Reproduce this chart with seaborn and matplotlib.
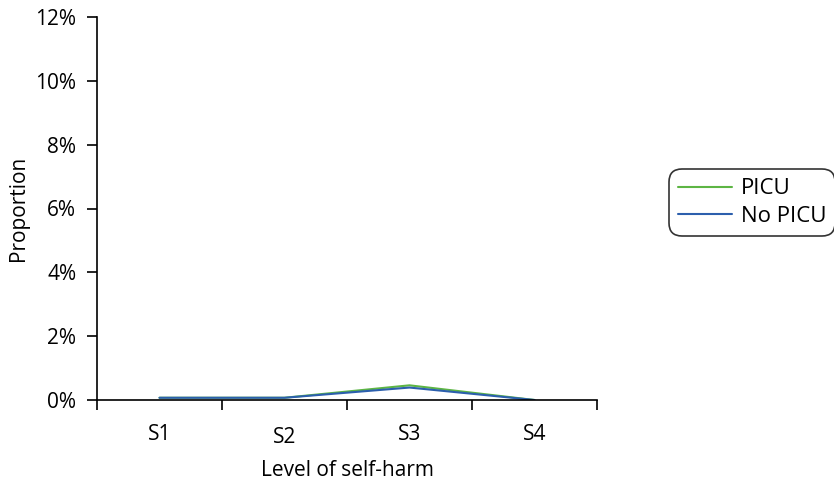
import matplotlib
matplotlib.use("Agg")
import matplotlib.pyplot as plt
import pandas as pd
import seaborn as sns
from matplotlib.ticker import FuncFormatter
from matplotlib.lines import Line2D

# data (proportion, %)
levels = ["S1", "S2", "S3", "S4"]
picu = [0.07, 0.07, 0.46, 0.0]
no_picu = [0.07, 0.07, 0.39, 0.0]

df = pd.DataFrame({
    "Level": levels * 2,
    "Proportion": picu + no_picu,
    "Group": ["PICU"] * 4 + ["No PICU"] * 4,
})

sns.set_style("white")
plt.rcParams['font.family'] = ['Open Sans', 'DejaVu Sans']
plt.rcParams['text.color'] = 'black'
plt.rcParams['axes.labelcolor'] = 'black'
plt.rcParams['xtick.color'] = 'black'
plt.rcParams['ytick.color'] = 'black'

FS = 15

fig = plt.figure(figsize=(8.34, 4.82), dpi=100)
ax = fig.add_axes([97 / 834, 82 / 482, 500 / 834, 383 / 482])

sns.lineplot(data=df, x="Level", y="Proportion", hue="Group",
             palette={"PICU": "#5db544", "No PICU": "#2c5fad"},
             linewidth=1.5, ax=ax, legend=False, sort=False)

ax.set_xlim(-0.5, 3.5)
ax.set_ylim(0, 12)
ax.set_yticks(range(0, 13, 2))
ax.yaxis.set_major_formatter(FuncFormatter(lambda v, p: f"{int(v)}%"))

# ticks at category boundaries, labels at centres
ax.set_xticks([-0.5, 0.5, 1.5, 2.5, 3.5])
ax.set_xticklabels([])
ax.set_xticks(range(4), minor=True)
ax.set_xticklabels(levels, minor=True)
ax.tick_params(axis="x", which="minor", length=0, pad=17, labelsize=FS)
ax.tick_params(axis="x", which="major", length=7, width=1.2, direction="out")
ax.tick_params(axis="y", length=7, width=1.2, direction="out", labelsize=FS, pad=8)
ax.xaxis.set_ticks_position("bottom")
ax.yaxis.set_ticks_position("left")
# S2 label sits a little lower in the original
for lbl in ax.get_xticklabels(minor=True):
    if lbl.get_text() == "S2":
        lbl.set_y(-0.008)

for s in ["top", "right"]:
    ax.spines[s].set_visible(False)
for s in ["left", "bottom"]:
    ax.spines[s].set_color("black")
    ax.spines[s].set_linewidth(1.2)

ax.set_xlabel("Level of self-harm", fontsize=FS, va="center")
ax.set_ylabel("Proportion", fontsize=FS, va="center")
ax.xaxis.set_label_coords(0.5, (400 - 470) / 383)
ax.yaxis.set_label_coords((19 - 97) / 500, 0.5)

handles = [Line2D([], [], color="#5db544", lw=1.5), Line2D([], [], color="#2c5fad", lw=1.5)]
leg = fig.legend(handles, ["PICU", "No PICU"], loc="upper left",
                 bbox_to_anchor=(669 / 834, 1 - 169 / 482), fontsize=16,
                 frameon=True, fancybox=True, edgecolor="black",
                 handlelength=2.4, handletextpad=0.4, labelspacing=0.28,
                 borderpad=0.42, borderaxespad=0)
leg.get_frame().set_linewidth(1.2)
leg.get_frame().set_boxstyle("round,pad=0,rounding_size=0.6")

fig.savefig("out.png", dpi=100)
